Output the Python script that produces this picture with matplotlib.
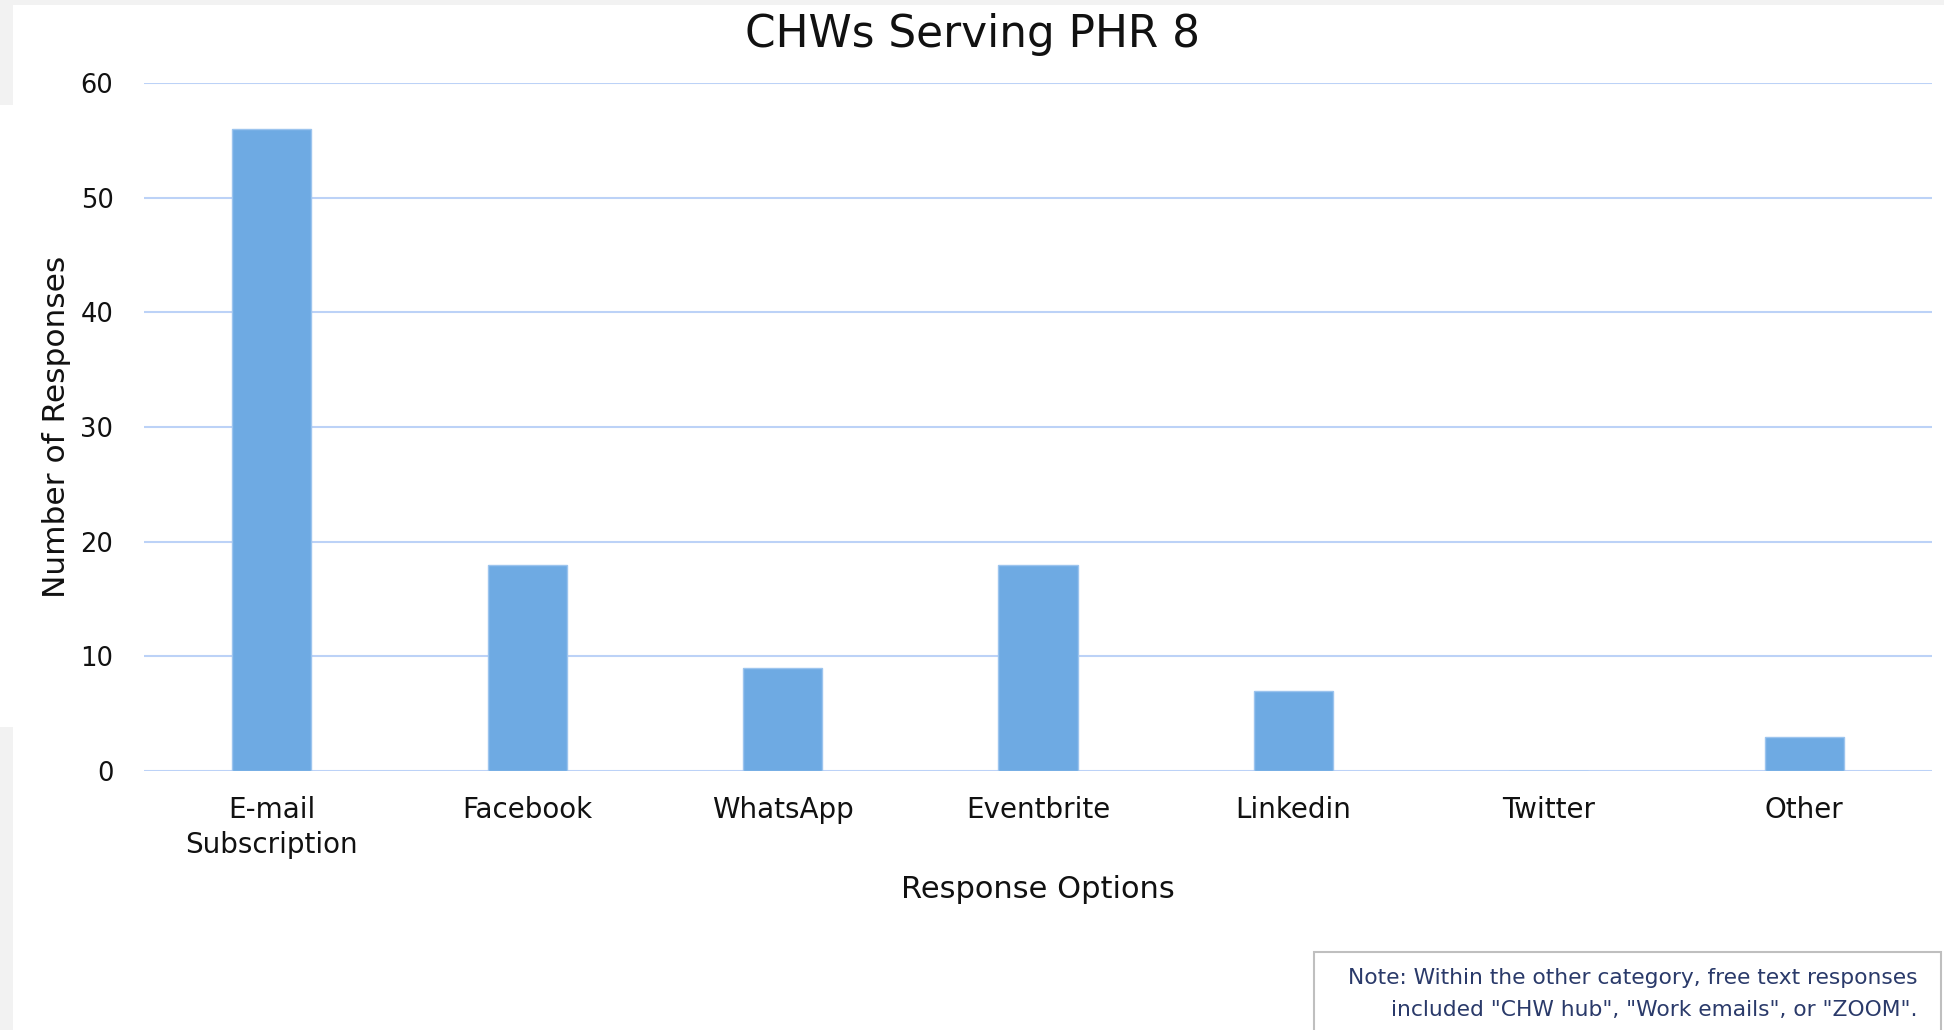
import matplotlib
matplotlib.use("Agg")
import matplotlib.pyplot as plt
from matplotlib.patches import Rectangle

categories = ["E-mail\nSubscription", "Facebook", "WhatsApp", "Eventbrite",
              "Linkedin", "Twitter", "Other"]
responses = [56, 18, 9, 18, 7, 0, 3]
yticks = [0, 10, 20, 30, 40, 50, 60]

bar_color = "#6eaae3"
grid_color = "#bcd2f7"
note = ('Note: Within the other category, free text responses\n'
        'included "CHW hub", "Work emails", or "ZOOM".')

plt.rcParams['font.family'] = ['DejaVu Sans']

fig = plt.figure(figsize=(19.44, 10.30), dpi=100)
fig.patch.set_facecolor("white")

# grey page edges seen in the screenshot
fig.patches.append(Rectangle((0, 1 - 5 / 1030), 1, 5 / 1030, transform=fig.transFigure,
                             facecolor="#f2f2f2", edgecolor="none", zorder=0))
fig.patches.append(Rectangle((0, 1 - 105 / 1030), 13 / 1944, 105 / 1030, transform=fig.transFigure,
                             facecolor="#f2f2f2", edgecolor="none", zorder=0))
fig.patches.append(Rectangle((0, 0), 13 / 1944, 1 - 727 / 1030, transform=fig.transFigure,
                             facecolor="#f2f2f2", edgecolor="none", zorder=0))

ax = fig.add_axes([144 / 1944, 1 - 771 / 1030, (1932 - 144) / 1944, (771 - 83) / 1030])
ax.set_facecolor("none")

x = list(range(len(categories)))
ax.bar(x, responses, width=0.31, color=bar_color, edgecolor="#9cc4ee", linewidth=1, zorder=3)

ax.set_xlim(-0.5, len(categories) - 0.5)
ax.set_ylim(0, 60)
ax.set_yticks(yticks)
ax.set_xticks(x)
ax.set_xticklabels(categories, fontsize=20, color="#111111", linespacing=1.3)
ax.tick_params(axis="y", labelsize=18.5, colors="#111111", length=0, pad=22)
ax.tick_params(axis="x", length=0, pad=18)
ax.yaxis.grid(True, color=grid_color, linewidth=1.5, zorder=0)
for s in ax.spines.values():
    s.set_visible(False)

fig.text(0.5, 1 - 34 / 1030, "CHWs Serving PHR 8", ha="center", va="center",
         fontsize=31.5, color="#111111")
ax.set_xlabel("Response Options", fontsize=22, color="#111111", labelpad=11.5)
ax.set_ylabel("Number of Responses", fontsize=22.5, color="#111111", labelpad=7)

fig.patches.append(Rectangle((1314 / 1944, -0.01), (1941 - 1314) / 1944, (1030 - 952) / 1030 + 0.01,
                             transform=fig.transFigure, facecolor="white",
                             edgecolor="#bfbfbf", linewidth=1.5, zorder=1))
fig.text(1917 / 1944, 1 - 994 / 1030, note, ha="right", va="center", fontsize=15.7,
         color="#2a3a6a", linespacing=1.75)

fig.savefig("out.png", dpi=100)
